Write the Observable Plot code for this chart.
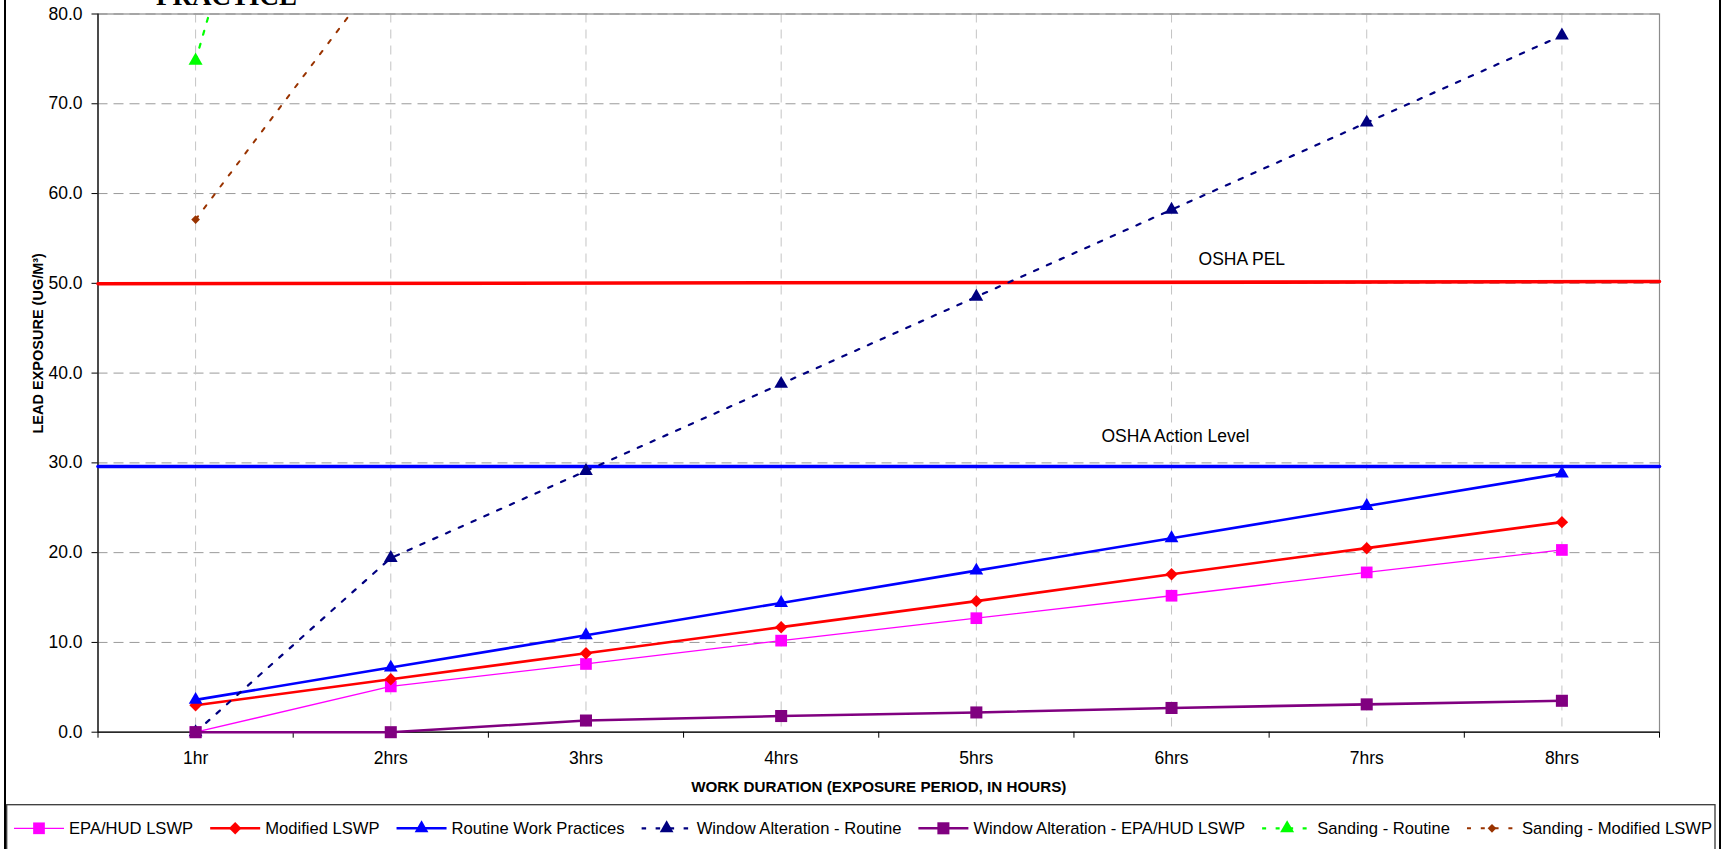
<!DOCTYPE html>
<html><head><meta charset="utf-8">
<script src="https://cdn.jsdelivr.net/npm/d3@7"></script>
<script src="https://cdn.jsdelivr.net/npm/@observablehq/plot@0.6"></script>
<style>
html,body{margin:0;padding:0;background:#fff;overflow:hidden;width:1725px;height:849px;}
#wrap{position:relative;width:1725px;height:849px;overflow:hidden;}
#chart{position:absolute;left:0;top:0;}
#legend{position:absolute;left:0;top:800px;}
#border{position:absolute;left:4px;top:-6px;width:1713px;height:860px;border:2px solid #000;pointer-events:none;}
</style></head>
<body><div id="wrap"><div id="chart"></div><svg id="legend" width="1725" height="49"></svg><div id="border"></div></div>
<script>
// ---- data ----
const hours = ["1hr","2hrs","3hrs","4hrs","5hrs","6hrs","7hrs","8hrs"];
const epaHud          = [0.0, 5.1, 7.6, 10.2, 12.7, 15.2, 17.8, 20.3];
const modifiedLswp    = [3.0, 5.9, 8.8, 11.7, 14.6, 17.6, 20.5, 23.4];
const routineWork     = [3.6, 7.2, 10.8, 14.4, 18.0, 21.6, 25.2, 28.8];
const windowRoutine   = [0.0, 19.4, 29.1, 38.8, 48.5, 58.2, 67.9, 77.6];
const windowEpaHud    = [0.0, 0.0, 1.3, 1.8, 2.2, 2.7, 3.1, 3.5];
const sandingRoutine  = [74.8, 150.0];
const sandingModified = [57.1, 86.0];
const oshaPel         = [49.95, 50.2];   // drawn across the full plot width
const oshaAction      = [29.6, 29.6];
const yTicks = [0, 10, 20, 30, 40, 50, 60, 70, 80];
const annotations = [
  {label: "OSHA PEL", x: 6.36, y: 52.7},
  {label: "OSHA Action Level", x: 6.02, y: 32.9}
];

// ---- styles per series ----
const series = [
  {name: "EPA/HUD LSWP", values: epaHud, color: "#ff00ff", sw: 1.3, dash: null, symbol: "square", r: 6.6, clip: false},
  {name: "Modified LSWP", values: modifiedLswp, color: "#ff0000", sw: 2.6, dash: null, symbol: "diamond2", r: 5.6, clip: false},
  {name: "Routine Work Practices", values: routineWork, color: "#0000ff", sw: 2.6, dash: null, symbol: "triangle", r: 5.1, clip: false},
  {name: "Window Alteration - Routine", values: windowRoutine, color: "#000080", sw: 2.2, dash: "4.5,9.5", symbol: "triangle", r: 5.1, clip: false},
  {name: "Window Alteration - EPA/HUD LSWP", values: windowEpaHud, color: "#800080", sw: 2.6, dash: null, symbol: "square", r: 6.8, clip: false},
  {name: "Sanding - Routine", values: sandingRoutine, color: "#00ff00", sw: 2.2, dash: "4,9.5", symbol: "triangle", r: 5.2, clip: true},
  {name: "Sanding - Modified LSWP", values: sandingModified, color: "#993300", sw: 2, dash: "4,9.8", symbol: "diamond2", r: 3.9, clip: true}
];

const rowsOf = s => s.values.map((v, i) => ({x: i + 1, y: v}));
const bounds = d3.range(0.5, 9, 1);
const centers = d3.range(1, 9);
const edgeX = [0.5, 8.5];

const seriesMarks = series.flatMap(s => [
  Plot.line(rowsOf(s), {x: "x", y: "y", stroke: s.color, strokeWidth: s.sw, strokeDasharray: s.dash, clip: s.clip}),
  Plot.dot(rowsOf(s), {x: "x", y: "y", symbol: () => s.symbol, r: s.r, fill: s.color, stroke: "none", clip: s.clip})
]);

const chart = Plot.plot({
  width: 1725, height: 800,
  marginLeft: 97.5, marginRight: 66, marginTop: 13.5, marginBottom: 68.3,
  x: {domain: [0.5, 8.5]},
  y: {domain: [0, 80]},
  style: {fontFamily: "'Liberation Sans', Arial, sans-serif", fontSize: "17.5px", color: "#000", background: "#fff", overflow: "visible"},
  marks: [
    Plot.ruleY(yTicks.filter(d => d > 0), {y: d => d, stroke: "#9a9a9a", strokeWidth: 1, strokeDasharray: "10,6"}),
    Plot.ruleX(centers, {x: d => d, stroke: "#c4c4c4", strokeWidth: 1, strokeDasharray: "9,7"}),
    Plot.frame({stroke: "#8c8c8c", strokeWidth: 1.2}),
    Plot.axisY({ticks: yTicks, tickFormat: d => d.toFixed(1), tickSize: 6, tickPadding: 9.5, label: null, stroke: "#000"}),
    Plot.axisX({ticks: bounds, tickFormat: () => "", tickSize: 6, label: null, stroke: "#000"}),
    Plot.axisX({ticks: centers, tickFormat: d => hours[d - 1], tickSize: 0, tickPadding: 19, label: null}),
    Plot.ruleX([0.5], {x: d => d, stroke: "#000", strokeWidth: 1.2}),
    Plot.ruleY([0], {y: d => d, stroke: "#000", strokeWidth: 1.2}),
    Plot.line(edgeX.map((x, i) => ({x, y: oshaPel[i]})), {x: "x", y: "y", stroke: "#ff0000", strokeWidth: 3.6}),
    Plot.line(edgeX.map((x, i) => ({x, y: oshaAction[i]})), {x: "x", y: "y", stroke: "#0000ff", strokeWidth: 3.6}),
    Plot.text(annotations, {x: "x", y: "y", text: "label", fontSize: 17.5, textAnchor: "middle", fill: "#000"}),
    ...seriesMarks,
    Plot.text(["LEAD EXPOSURE (UG/M³)"], {text: d => d, frameAnchor: "left", dx: -60, dy: 60.4, rotate: -90, textAnchor: "start", lineAnchor: "middle", fontWeight: "bold", fontSize: 14.5, fill: "#000"}),
    Plot.text(["WORK DURATION (EXPOSURE PERIOD, IN HOURS)"], {text: d => d, frameAnchor: "bottom", dy: 55, textAnchor: "middle", lineAnchor: "middle", fontWeight: "bold", fontSize: 15.2, fill: "#000"}),
    Plot.text(["PRACTICE"], {text: d => d, frameAnchor: "top-left", dx: 128.5, dy: -18.1, textAnchor: "middle", lineAnchor: "middle", fontWeight: "bold", fontSize: 27, fontFamily: "'Liberation Serif', 'Times New Roman', serif", fill: "#000"})
  ]
});
document.getElementById("chart").appendChild(chart);

// ---- legend ----
const symbolMap = {square: d3.symbolSquare, diamond2: d3.symbolDiamond2, triangle: d3.symbolTriangle};
const leg = d3.select("#legend");
leg.append("rect").attr("x", 6.7).attr("y", 4.7).attr("width", 1708.3).attr("height", 80)
  .attr("fill", "none").attr("stroke", "#3a3a3a").attr("stroke-width", 1.3);
const sampleW = 50, textGap = 5, lineY = 28.3, baseY = 34.3;
const items = series.map(s => {
  const g = leg.append("g");
  g.append("line").attr("x1", 0).attr("x2", sampleW).attr("y1", lineY).attr("y2", lineY)
    .attr("stroke", s.color).attr("stroke-width", s.sw).attr("stroke-dasharray", s.dash);
  g.append("path").attr("transform", `translate(${sampleW / 2},${lineY})`)
    .attr("d", d3.symbol(symbolMap[s.symbol], Math.PI * s.r * s.r)()).attr("fill", s.color);
  const t = g.append("text").attr("x", sampleW + textGap).attr("y", baseY)
    .attr("font-family", "'Liberation Sans', Arial, sans-serif").attr("font-size", 16.6).attr("fill", "#000").text(s.name);
  return {g, w: sampleW + textGap + t.node().getComputedTextLength()};
});
const startX = 14, endX = 1712;
const total = d3.sum(items, d => d.w);
const gap = (endX - startX - total) / (items.length - 1);
let cx = startX;
items.forEach(it => { it.g.attr("transform", `translate(${cx},0)`); cx += it.w + gap; });
</script></body></html>
